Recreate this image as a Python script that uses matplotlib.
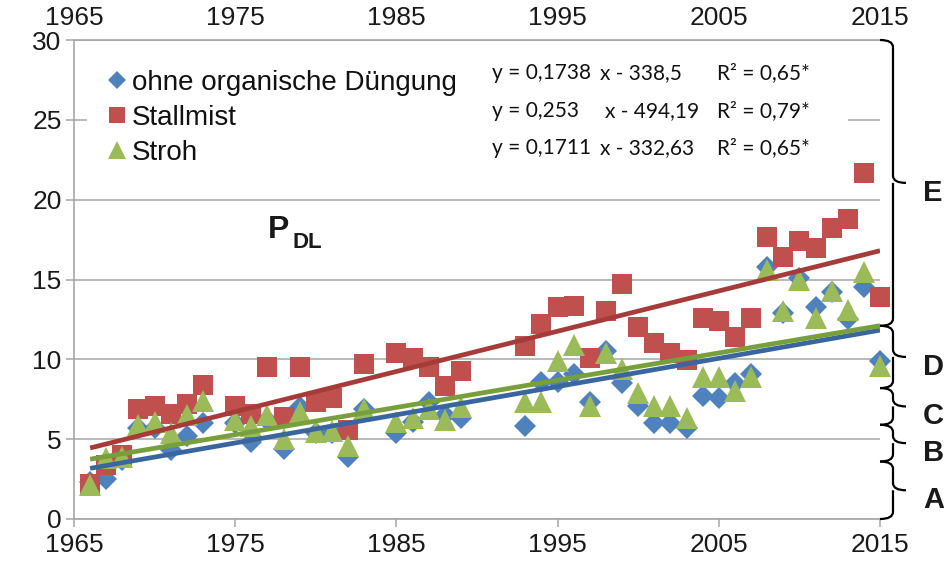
import numpy as np
import matplotlib
matplotlib.use("Agg")
import matplotlib.pyplot as plt
from matplotlib.lines import Line2D
from matplotlib.patches import Rectangle, PathPatch
from matplotlib.path import Path
from matplotlib import transforms

plt.rcParams['font.family'] = ['Liberation Sans', 'DejaVu Sans']

# --- data -----------------------------------------------------------------
years = [1966, 1967, 1968, 1969, 1970, 1971, 1972, 1973,
         1975, 1976, 1977, 1978, 1979, 1980, 1981, 1982, 1983,
         1985, 1986, 1987, 1988, 1989,
         1993, 1994, 1995, 1996, 1997, 1998, 1999, 2000, 2001, 2002, 2003,
         2004, 2005, 2006, 2007, 2008, 2009, 2010, 2011, 2012, 2013, 2014, 2015]

ohne = [2.3, 2.5, 3.7, 5.7, 5.7, 4.3, 5.2, 6.0,
        6.0, 4.8, 6.2, 4.4, 7.0, 5.4, 5.4, 3.9, 6.9,
        5.4, 6.1, 7.3, 6.5, 6.3,
        5.8, 8.6, 8.6, 9.1, 7.3, 10.5, 8.5, 7.1, 6.0, 6.0, 5.7,
        7.7, 7.6, 8.5, 9.1, 15.8, 12.9, 15.1, 13.3, 14.2, 12.5, 14.5, 9.9]

stallmist = [2.2, 3.4, 4.0, 6.9, 7.1, 6.6, 7.2, 8.4,
             7.1, 6.6, 9.5, 6.4, 9.5, 7.3, 7.6, 5.6, 9.7,
             10.4, 10.1, 9.5, 8.3, 9.3,
             10.85, 12.2, 13.25, 13.35, 10.1, 13.0, 14.7, 12.0, 11.0, 10.4, 9.95,
             12.6, 12.4, 11.4, 12.6, 17.65, 16.4, 17.4, 17.0, 18.2, 18.8, 21.7, 13.9]

stroh = [2.1, 3.8, 3.9, 5.9, 6.1, 5.4, 6.5, 7.4,
         6.2, 5.8, 6.5, 5.0, 6.7, 5.45, 5.5, 4.6, 6.9,
         6.1, 6.3, 6.9, 6.2, 7.0,
         7.3, 7.3, 9.9, 10.9, 7.1, 10.4, 9.4, 7.9, 7.1, 7.1, 6.3,
         8.9, 8.9, 8.0, 8.9, 15.6, 13.0, 15.0, 12.6, 14.3, 13.1, 15.5, 9.6]

series_names = ["ohne organische Düngung", "Stallmist", "Stroh"]
equations = [("y = 0,1738", "x - 338,5", "R² = 0,65*"),
             ("y = 0,253", "x - 494,19", "R² = 0,79*"),
             ("y = 0,1711", "x - 332,63", "R² = 0,65*")]

x_ticks = [1965, 1975, 1985, 1995, 2005, 2015]
y_ticks = [0, 5, 10, 15, 20, 25, 30]

# class brackets on the right: (lower, upper, label)
classes = [(0.0, 3.6, "A"), (3.6, 5.9, "B"), (5.9, 8.2, "C"),
           (8.2, 12.1, "D"), (12.1, 30.0, "E")]

# --- styling ----------------------------------------------------------------
c_blue, c_red, c_green = "#4F81BD", "#C0504D", "#9BBB59"
l_blue, l_red, l_green = "#3A66A0", "#A63C39", "#779F3C"
grid_c = "#A6A6A6"

W, H = 944, 570
fig = plt.figure(figsize=(W / 100, H / 100), dpi=100)


def fx(px):
    return px / W


def fy(py):
    return 1 - py / H


ax_left, ax_right, ax_top, ax_bot = 74, 880, 40, 519
ax = fig.add_axes([fx(ax_left), fy(ax_bot), fx(ax_right - ax_left),
                   (ax_bot - ax_top) / H])
ax.set_xlim(1965, 2015)
ax.set_ylim(0, 30)

for s in ("left", "bottom", "top"):
    ax.spines[s].set_color(grid_c)
    ax.spines[s].set_linewidth(1.2)
ax.spines["right"].set_visible(False)
ax.set_yticks(y_ticks)
ax.set_xticks(x_ticks)
ax.yaxis.grid(True, color=grid_c, linewidth=1.1)
ax.set_axisbelow(True)
ax.tick_params(axis="both", direction="out", length=6, width=1.1,
               color=grid_c, labelsize=19, labelcolor="#1a1a1a")
ax.tick_params(axis="x", pad=4)
ax.tick_params(axis="y", pad=3)

sec = ax.secondary_xaxis("top")
sec.set_xticks(x_ticks)
sec.tick_params(length=0, pad=7, labelsize=19, labelcolor="#1a1a1a")
sec.spines["top"].set_visible(False)

# scatter series
yr = np.array(years)
ax.plot(yr, ohne, linestyle="none", marker="D", markersize=11,
        color=c_blue, markeredgewidth=0, zorder=3, clip_on=False)
ax.plot(yr, stallmist, linestyle="none", marker="s", markersize=14.5,
        color=c_red, markeredgewidth=0, zorder=4, clip_on=False)
ax.plot(yr, stroh, linestyle="none", marker="^", markersize=16,
        color=c_green, markeredgewidth=0, zorder=5, clip_on=False)

# linear trend lines
xs = np.array([yr.min(), yr.max()])
for vals, col in ((ohne, l_blue), (stallmist, l_red), (stroh, l_green)):
    k, d = np.polyfit(yr, vals, 1)
    ax.plot(xs, k * xs + d, color=col, linewidth=3.4, zorder=6,
            solid_capstyle="butt")

# white label area holding legend and equations
fig.add_artist(Rectangle((fx(87), fy(168)), fx(848 - 87), (168 - 55) / H,
                         facecolor="white", edgecolor="none", zorder=7))

# legend
leg_rows = [80, 115, 150]
leg_markers = [("D", c_blue, 9), ("s", c_red, 12), ("^", c_green, 13)]
clip = transforms.TransformedBbox(transforms.Bbox([[0, 0], [fx(467), 1]]),
                                  fig.transFigure)
for name, row, (m, col, ms) in zip(series_names, leg_rows, leg_markers):
    fig.add_artist(Line2D([fx(117)], [fy(row)], marker=m, color=col,
                          markersize=ms, markeredgewidth=0, linestyle="none",
                          zorder=8))
    t = fig.text(fx(132), fy(row + 10), name, fontsize=20, color="#111111",
                 va="baseline", ha="left", zorder=8)
    t.set_clip_box(clip)
    t.set_clip_on(True)

# trend equations
eq_base = [79, 117, 154]
eq_xcol = [(492, 600, 717), (492, 605, 717), (492, 600, 717)]
for (a, b, c), base, cols in zip(equations, eq_base, eq_xcol):
    kw = dict(fontsize=15, family=["Lato", "DejaVu Sans"], color="#111111",
              va="baseline", ha="left", zorder=8)
    fig.text(fx(cols[0]), fy(base), a, **kw)
    fig.text(fx(cols[1]), fy(base), b, **kw)
    fig.text(fx(cols[2]), fy(base), c, **kw)

# P_DL label
fig.text(fx(268), fy(238), "P", fontsize=23, fontweight="bold",
         color="#1a1a1a", va="baseline", ha="left")
fig.text(fx(293), fy(248), "DL", fontsize=16, fontweight="bold",
         color="#1a1a1a", va="baseline", ha="left")

# curly brackets for the classes
bt = transforms.blended_transform_factory(fig.transFigure, ax.transData)
xv, xin, xtip = fx(893), fx(880), fx(906)
dy = 0.45
for lo, hi, lab in classes:
    mid = (lo + hi) / 2
    verts = [(xin, hi), (xv, hi), (xv, hi - dy),
             (xv, mid + dy),
             (xv, mid), (xtip, mid),
             (xv, mid), (xv, mid - dy),
             (xv, lo + dy),
             (xv, lo), (xin, lo)]
    codes = [Path.MOVETO, Path.CURVE3, Path.CURVE3,
             Path.LINETO,
             Path.CURVE3, Path.CURVE3,
             Path.MOVETO, Path.CURVE3,
             Path.LINETO,
             Path.CURVE3, Path.CURVE3]
    fig.add_artist(PathPatch(Path(verts, codes), transform=bt,
                             facecolor="none", edgecolor="black",
                             linewidth=1.6, clip_on=False))
    fig.text(fx(923), mid - 0.62, lab, transform=bt, fontsize=21,
             fontweight="bold", color="#1a1a1a", va="center", ha="left")

fig.savefig("out.png", dpi=100)
